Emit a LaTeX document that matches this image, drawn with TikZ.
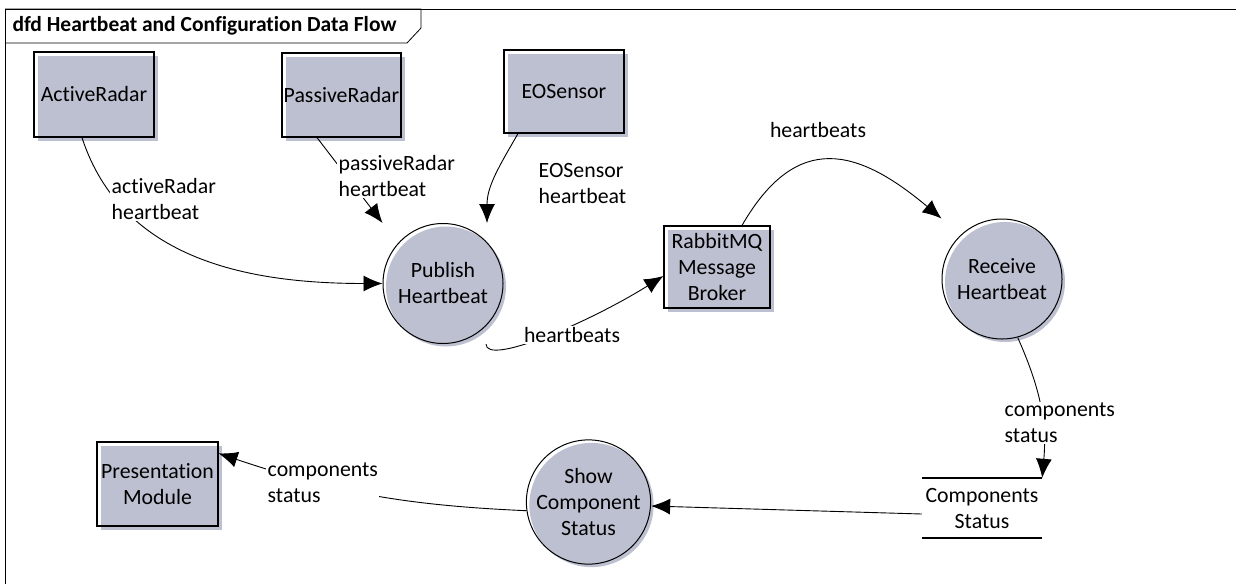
\documentclass[tikz,border=0pt]{standalone}
\usepackage{fontspec}
\setmainfont{Carlito}[Ligatures=NoCommon]
\usetikzlibrary{arrows.meta,shadows,positioning}
\definecolor{dfdgrey}{RGB}{189,192,208}

\begin{document}
\begin{tikzpicture}[x=1pt,y=1pt, font=\fontsize{21.8}{26}\selectfont,
entity/.style={rectangle, draw, line width=1.2pt, align=center, inner sep=0pt, general shadow={fill=dfdgrey, shadow xshift=4pt, shadow yshift=-4pt}},
process/.style={circle, draw, line width=1pt, align=center, inner sep=0pt, minimum size=120pt, general shadow={fill=dfdgrey, shadow xshift=3pt, shadow yshift=-3pt}},
flow/.style={line width=0.9pt, -{Latex[length=19pt,width=16pt]}},
flowlabel/.style={fill=white, align=left, inner sep=1.5pt}]
\useasboundingbox (0,0) rectangle (1236,-584);

\draw[line width=0.8pt] (5,-584) -- (5,-9) -- (1236,-9);
\draw[line width=0.8pt] (5,-9) -- (421,-9) -- (421,-28) -- (407,-43) -- (5,-43);
\node[anchor=west, font=\bfseries\fontsize{21.5}{24}\selectfont] (title) at (9,-26) {dfd Heartbeat and Configuration Data Flow};

\node[entity, minimum width=120pt, minimum height=85pt] (active) at (94,-94.5) {ActiveRadar};
\node[entity, minimum width=119pt, minimum height=84pt] (passive) at (341.5,-95) {PassiveRadar};
\node[entity, minimum width=120pt, minimum height=83pt] (eo) at (564,-91.5) {EOSensor};
\node[entity, minimum width=106pt, minimum height=82pt] (rabbit) at (717,-267) {RabbitMQ\\Message\\Broker};
\node[entity, minimum width=121pt, minimum height=84pt] (pres) at (157.5,-484) {Presentation\\Module};

\node[process] (publish) at (443,-283.5) {Publish\\Heartbeat};
\node[process] (receive) at (1002,-279) {Receive\\Heartbeat};
\node[process] (show) at (588.5,-502) {Show\\Component\\Status};

\node[minimum width=120pt, minimum height=60pt, inner sep=0pt, align=center] (store) at (982,-508) {Components\\Status};
\draw[line width=2.5pt] (store.north west) -- (store.north east);
\draw[line width=2.5pt] (store.south west) -- (store.south east);

\draw[flow] ([xshift=-12pt]active.south) to[out=-72, in=180] (publish.west);
\draw[flow] ([xshift=-24.5pt]passive.south) -- (publish.north -| publish.west);
\draw[flow] ([xshift=-46pt]eo.south) to[out=-120, in=90] ([xshift=44pt]publish.north);
\draw[flow] ([xshift=43pt]publish.south) to[out=-90, in=-148, out looseness=0.3, in looseness=1.2] ([yshift=-9pt]rabbit.west);
\draw[flow] ([xshift=25pt]rabbit.north) to[out=60, in=140, looseness=1.4] (receive.north -| receive.west);
\draw[flow] (receive.-75) to[out=-66, in=85] (store.north east);
\draw[flow] ([yshift=-6pt]store.west) -- ([yshift=-4pt]show.east);
\draw[flow] (show.188) to[bend left=8] ([yshift=-12pt]pres.north east);

\node[flowlabel, anchor=west] (l-active) at (110,-199) {activeRadar\\heartbeat};
\node[flowlabel, anchor=west] (l-passive) at (337,-176) {passiveRadar\\heartbeat};
\node[flowlabel, anchor=west] (l-eo) at (537,-184) {EOSensor\\heartbeat};
\node[flowlabel] (l-pub) at (572,-335) {heartbeats};
\node[flowlabel] (l-rabbit) at (818,-130) {heartbeats};
\node[flowlabel, anchor=west] (l-receive) at (1003,-423) {components\\status};
\node[flowlabel, anchor=west] (l-show) at (266,-483) {components\\status};
\end{tikzpicture}
\end{document}
